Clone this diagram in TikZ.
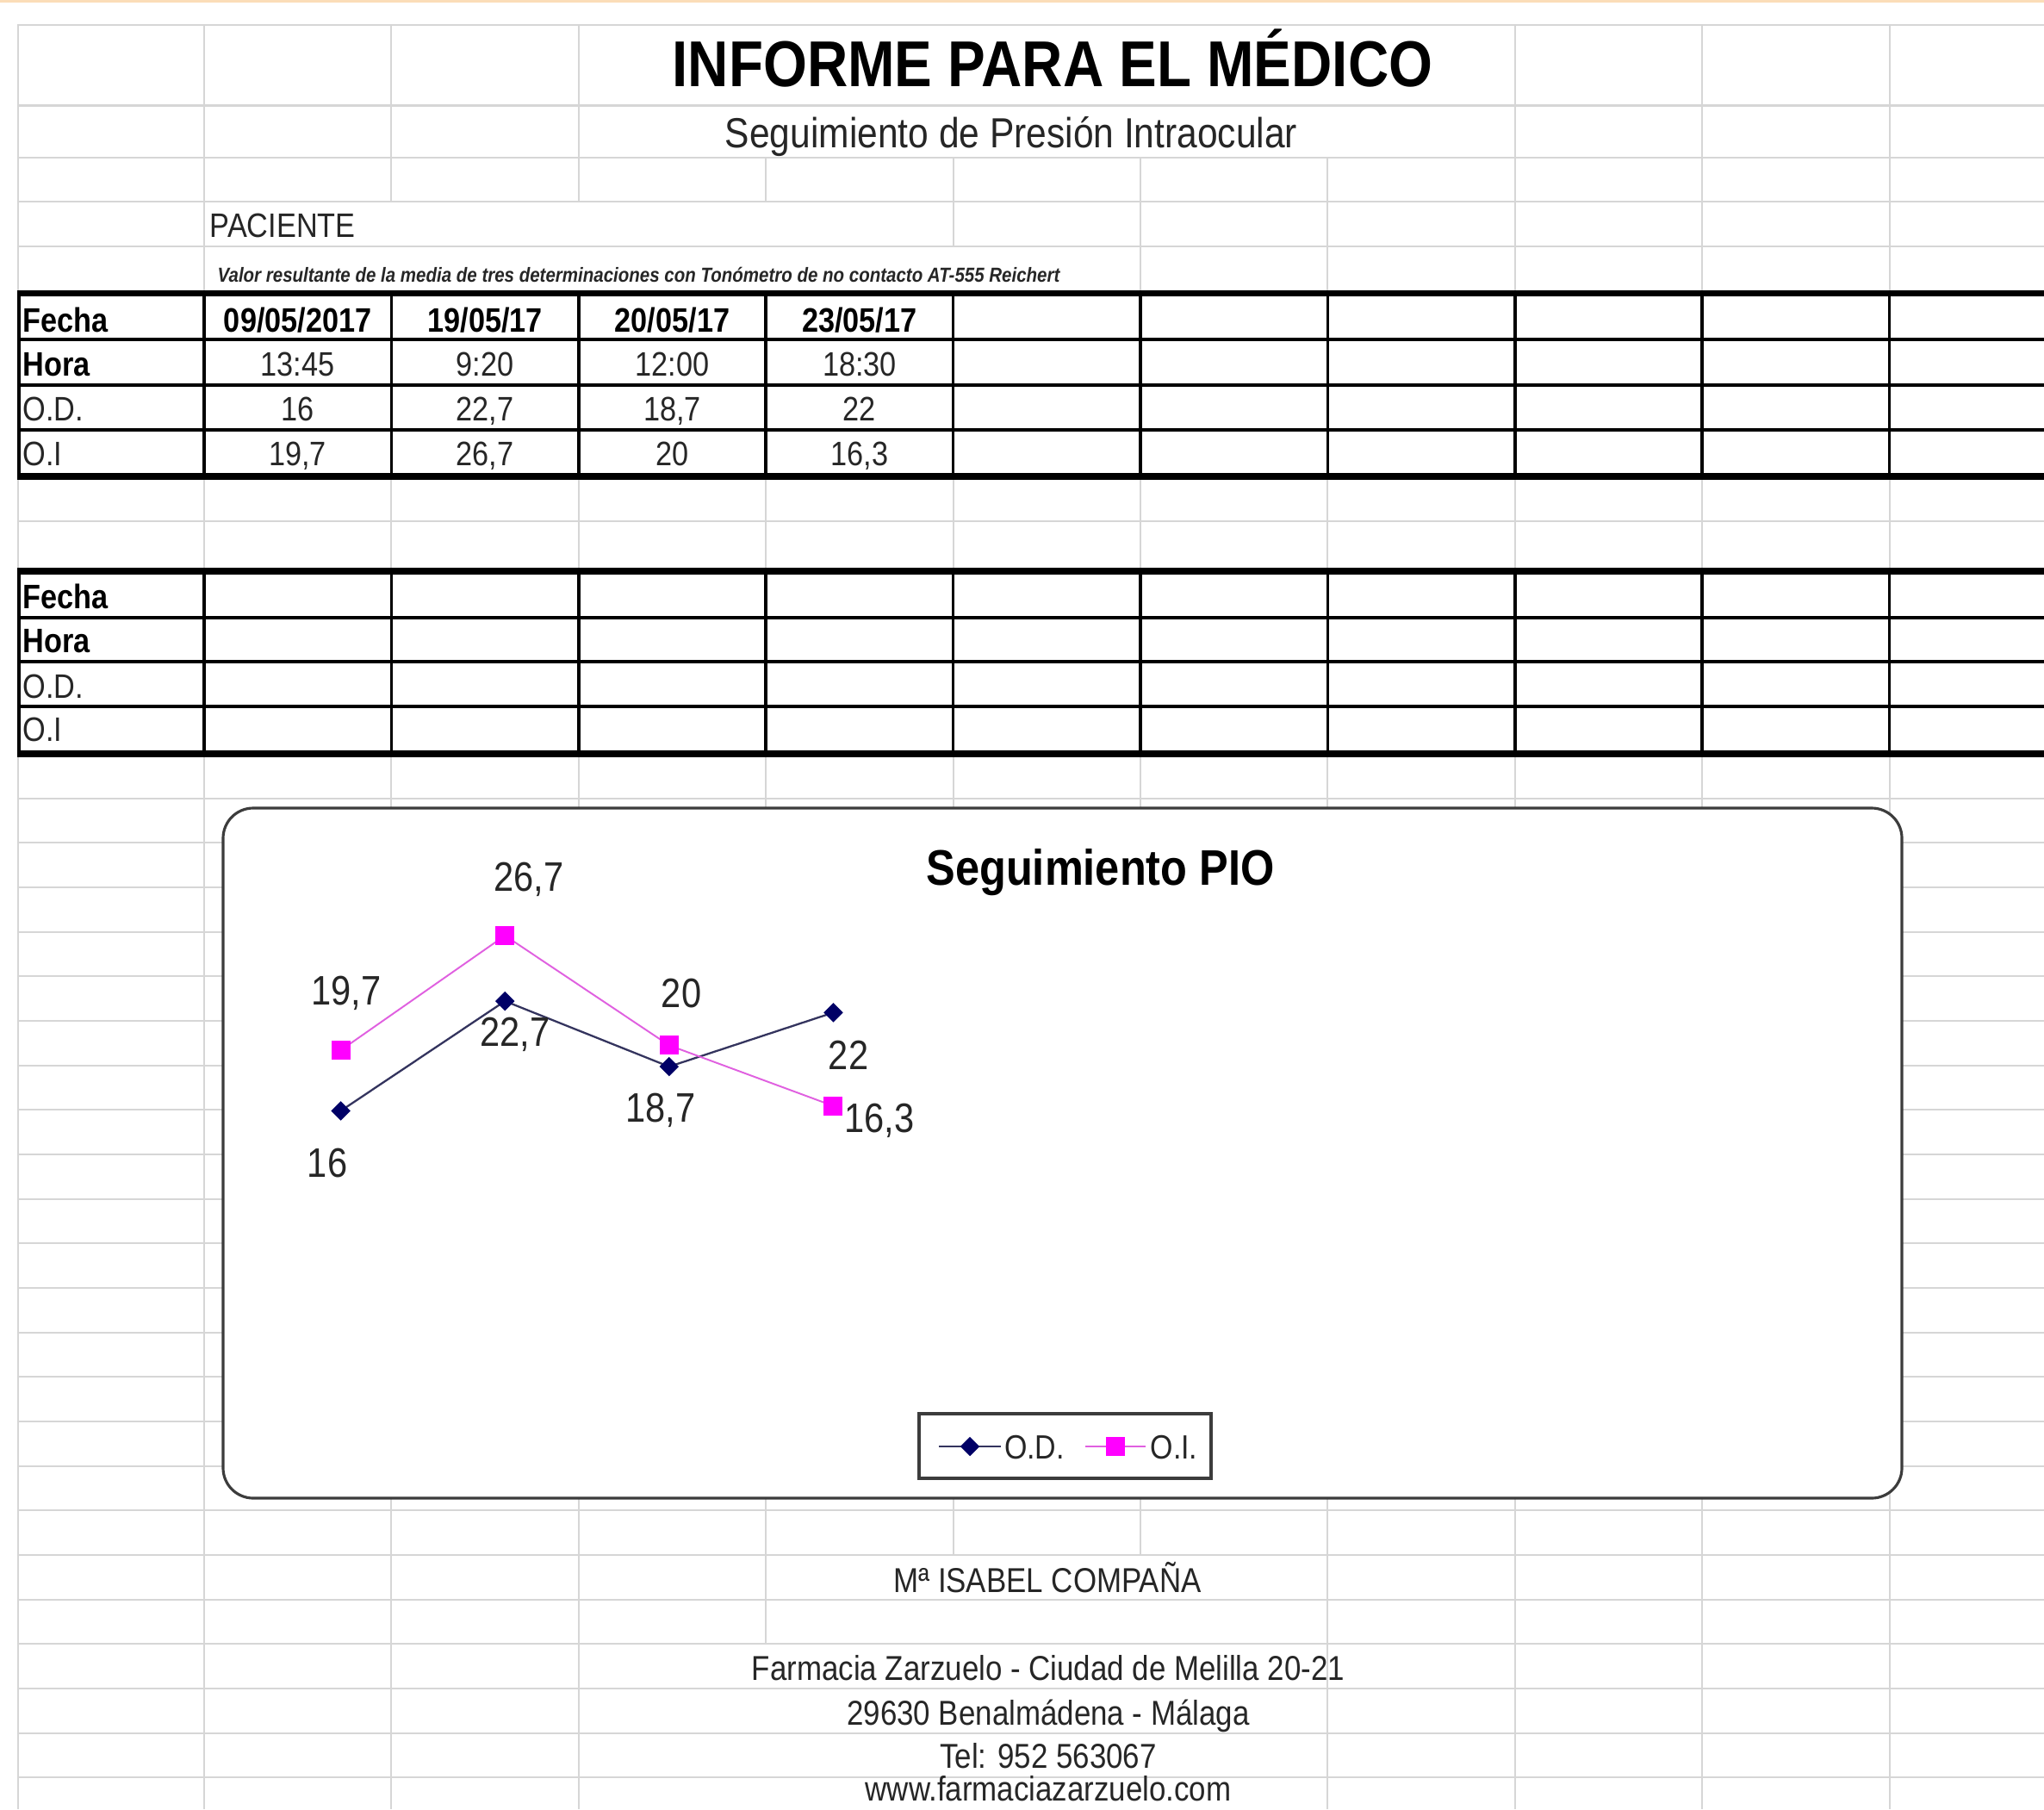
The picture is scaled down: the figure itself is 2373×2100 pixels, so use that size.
\documentclass[tikz,border=0pt]{standalone}
\usepackage{fontspec}
\setmainfont{Liberation Sans}[FakeStretch=0.87]
\usetikzlibrary{shapes.geometric}
\definecolor{gridgray}{HTML}{D6D6D6}
\definecolor{framegray}{HTML}{3C3C3C}
\definecolor{topband}{HTML}{FBDDB8}
\definecolor{odnavy}{HTML}{000066}
\definecolor{odstrokecolor}{HTML}{34345E}
\definecolor{oimagenta}{HTML}{FF00FF}
\definecolor{oistrokecolor}{HTML}{E060E0}
\definecolor{inkgray}{HTML}{262626}
\newcommand{\gridwidth}{0.6pt}
\newcommand{\rulewidth}{1pt}
\newcommand{\thickwidth}{2pt}
\newcommand{\titlesize}{\fontsize{21.4}{25}\selectfont}
\newcommand{\subsize}{\fontsize{13.9}{16}\selectfont}
\newcommand{\cellsize}{\fontsize{11.2}{13.4}\selectfont}
\newcommand{\notesize}{\fontsize{6.7}{8}\selectfont}
\newcommand{\valsize}{\fontsize{13.6}{16}\selectfont}
\newcommand{\footsize}{\fontsize{11.4}{13.7}\selectfont}

\begin{document}
\begin{tikzpicture}[x=0.01cm, y=-0.01cm,
  gridline/.style={draw=gridgray, line width=\gridwidth},
  rule/.style={draw=black, line width=\rulewidth},
  thickrule/.style={draw=black, line width=\thickwidth},
  cell/.style={font=\cellsize, text=inkgray, inner sep=0pt, anchor=base},
  headcell/.style={cell, font=\cellsize\bfseries, text=black},
  rowname/.style={cell, anchor=base west},
  rowhead/.style={headcell, anchor=base west},
  footline/.style={font=\footsize, text=inkgray, inner sep=0pt, anchor=base},
  ptlabel/.style={font=\valsize, text=inkgray, inner sep=0pt, text depth=0pt},
  odmark/.style={diamond, fill=odnavy, inner sep=0pt, minimum size=0.23cm},
  oimark/.style={rectangle, fill=oimagenta, inner sep=0pt, minimum size=0.22cm},
  odstroke/.style={draw=odstrokecolor, line width=0.65pt},
  oistroke/.style={draw=oistrokecolor, line width=0.55pt}]
\useasboundingbox (0,0) rectangle (2373,2100);
\clip (0,0) rectangle (2373,2100);
\fill[white] (0,0) rectangle (2373,2100);
\fill[topband] (0,0) rectangle (2373,3);
%light sheet grid, rows
\draw[gridline] (20,28.7) -- (2373,28.7);
\draw[gridline] (20,122.5) -- (2373,122.5);
\draw[gridline] (20,183) -- (2373,183);
\draw[gridline] (20,234) -- (2373,234);
\draw[gridline] (20,286) -- (2373,286);
\draw[gridline] (20,605) -- (2373,605);
\draw[gridline] (20,926.7) -- (2373,926.7);
\draw[gridline] (20,978.3) -- (2373,978.3);
\draw[gridline] (20,1030) -- (2373,1030);
\draw[gridline] (20,1081.7) -- (2373,1081.7);
\draw[gridline] (20,1133.3) -- (2373,1133.3);
\draw[gridline] (20,1185) -- (2373,1185);
\draw[gridline] (20,1236.7) -- (2373,1236.7);
\draw[gridline] (20,1288.3) -- (2373,1288.3);
\draw[gridline] (20,1340) -- (2373,1340);
\draw[gridline] (20,1391.7) -- (2373,1391.7);
\draw[gridline] (20,1443.3) -- (2373,1443.3);
\draw[gridline] (20,1495) -- (2373,1495);
\draw[gridline] (20,1546.7) -- (2373,1546.7);
\draw[gridline] (20,1598.3) -- (2373,1598.3);
\draw[gridline] (20,1650) -- (2373,1650);
\draw[gridline] (20,1701.7) -- (2373,1701.7);
\draw[gridline] (20,1753.3) -- (2373,1753.3);
\draw[gridline] (20,1805) -- (2373,1805);
\draw[gridline] (20,1856.7) -- (2373,1856.7);
\draw[gridline] (20,1908.3) -- (2373,1908.3);
\draw[gridline] (20,1960) -- (2373,1960);
\draw[gridline] (20,2011.7) -- (2373,2011.7);
\draw[gridline] (20,2063.3) -- (2373,2063.3);
%light sheet grid, columns
\draw[gridline] (21,28.7) -- (21,2100);
\draw[gridline] (237,28.7) -- (237,2100);
\draw[gridline] (454.4,28.7) -- (454.4,234) (454.4,340) -- (454.4,2100);
\draw[gridline] (671.8,28.7) -- (671.8,234) (671.8,340) -- (671.8,2100);
\draw[gridline] (889.2,183) -- (889.2,234) (889.2,340) -- (889.2,1908.3);
\draw[gridline] (1106.6,183) -- (1106.6,286) (1106.6,340) -- (1106.6,1805);
\draw[gridline] (1324,183) -- (1324,1805);
\draw[gridline] (1541.4,183) -- (1541.4,2100);
\draw[gridline] (1758.8,28.7) -- (1758.8,2100);
\draw[gridline] (1976.2,28.7) -- (1976.2,2100);
\draw[gridline] (2193.6,28.7) -- (2193.6,2100);
%heading
\node[font=\titlesize\bfseries, text=black, inner sep=0pt, anchor=base] (title) at (1222,101) {INFORME PARA EL MÉDICO};
\node[font=\subsize, text=inkgray, inner sep=0pt, anchor=base] (subtitle) at (1174,172) {Seguimiento de Presión Intraocular};
\node[font=\cellsize, text=inkgray, inner sep=0pt, anchor=base west] (patient) at (243,275) {PACIENTE};
\node[font=\notesize\bfseries\itshape, text=inkgray, inner sep=0pt, anchor=base west] (note) at (252,327) {Valor resultante de la media de tres determinaciones con Tonómetro de no contacto AT-555 Reichert};
%first table
\draw[rule] (22,394) -- (2373,394) (22,447) -- (2373,447) (22,499) -- (2373,499);
\draw[rule] (22,340.6) -- (22,553) (237,340.6) -- (237,553) (454.4,340.6) -- (454.4,553)
  (671.8,340.6) -- (671.8,553) (889.2,340.6) -- (889.2,553) (1106.6,340.6) -- (1106.6,553)
  (1324,340.6) -- (1324,553) (1541.4,340.6) -- (1541.4,553) (1758.8,340.6) -- (1758.8,553)
  (1976.2,340.6) -- (1976.2,553) (2193.6,340.6) -- (2193.6,553);
\draw[thickrule] (20,340.6) -- (2373,340.6);
\draw[thickrule] (20,553) -- (2373,553);
\node[rowhead] (fecha) at (26,385) {Fecha};
\node[rowhead] (hora) at (26,436) {Hora};
\node[rowname] (odrow) at (26,488) {O.D.};
\node[rowname] (oirow) at (26,540) {O.I};
\node[headcell] (d1) at (345.7,385) {09/05/2017};
\node[headcell] (d2) at (563.1,385) {19/05/17};
\node[headcell] (d3) at (780.5,385) {20/05/17};
\node[headcell] (d4) at (997.9,385) {23/05/17};
\node[cell] (h1) at (345.7,436) {13:45};
\node[cell] (h2) at (563.1,436) {9:20};
\node[cell] (h3) at (780.5,436) {12:00};
\node[cell] (h4) at (997.9,436) {18:30};
\node[cell] (r1) at (345.7,488) {16};
\node[cell] (r2) at (563.1,488) {22,7};
\node[cell] (r3) at (780.5,488) {18,7};
\node[cell] (r4) at (997.9,488) {22};
\node[cell] (l1) at (345.7,540) {19,7};
\node[cell] (l2) at (563.1,540) {26,7};
\node[cell] (l3) at (780.5,540) {20};
\node[cell] (l4) at (997.9,540) {16,3};
%second table
\draw[rule] (22,717) -- (2373,717) (22,768) -- (2373,768) (22,820) -- (2373,820);
\draw[rule] (22,663) -- (22,875) (237,663) -- (237,875) (454.4,663) -- (454.4,875)
  (671.8,663) -- (671.8,875) (889.2,663) -- (889.2,875) (1106.6,663) -- (1106.6,875)
  (1324,663) -- (1324,875) (1541.4,663) -- (1541.4,875) (1758.8,663) -- (1758.8,875)
  (1976.2,663) -- (1976.2,875) (2193.6,663) -- (2193.6,875);
\draw[thickrule] (20,663) -- (2373,663);
\draw[thickrule] (20,875) -- (2373,875);
\node[rowhead] (fecha2) at (26,706) {Fecha};
\node[rowhead] (hora2) at (26,757) {Hora};
\node[rowname] (odrow2) at (26,810) {O.D.};
\node[rowname] (oirow2) at (26,860) {O.I};
%chart
\draw[draw=framegray, fill=white, line width=0.9pt, rounded corners=0.35cm] (259,938) rectangle (2208,1739);
\node[font=\fontsize{16.5}{20}\selectfont\bfseries, text=black, inner sep=0pt, anchor=base] (charttitle) at (1277.5,1027) {Seguimiento PIO};
\begin{scope}[shift={(205,1593.6)}, x=1.905cm, y=0.19cm]
\coordinate (od1) at (1,16);
\coordinate (od2) at (2,22.7);
\coordinate (od3) at (3,18.7);
\coordinate (od4) at (4,22);
\coordinate (oi1) at (1,19.7);
\coordinate (oi2) at (2,26.7);
\coordinate (oi3) at (3,20);
\coordinate (oi4) at (4,16.3);
\end{scope}
\draw[odstroke] (od1) -- (od2) -- (od3) -- (od4);
\node[odmark] (odm1) at (od1) {};
\node[odmark] (odm2) at (od2) {};
\node[odmark] (odm3) at (od3) {};
\node[odmark] (odm4) at (od4) {};
\draw[oistroke] (oi1) -- (oi2) -- (oi3) -- (oi4);
\node[oimark] (oim1) at (oi1) {};
\node[oimark] (oim2) at (oi2) {};
\node[oimark] (oim3) at (oi3) {};
\node[oimark] (oim4) at (oi4) {};
\node[ptlabel] (vod1) at (380,1350) {16};
\node[ptlabel] (vod2) at (598,1198) {22,7};
\node[ptlabel] (vod3) at (767,1286) {18,7};
\node[ptlabel] (vod4) at (985,1225) {22};
\node[ptlabel] (voi1) at (402,1150) {19,7};
\node[ptlabel] (voi2) at (614,1018) {26,7};
\node[ptlabel] (voi3) at (791,1153) {20};
\node[ptlabel] (voi4) at (1021,1298) {16,3};
%legend
\draw[draw=framegray, line width=0.9pt] (1067,1641) rectangle (1406,1716);
\coordinate (keyod) at (1126,1679);
\coordinate (keyoi) at (1295,1679);
\draw[odstroke] ([xshift=-0.36cm]keyod) -- ([xshift=0.36cm]keyod);
\draw[oistroke] ([xshift=-0.35cm]keyoi) -- ([xshift=0.35cm]keyoi);
\node[odmark] (keyodm) at (keyod) {};
\node[oimark] (keyoim) at (keyoi) {};
\node[font=\fontsize{11.1}{13}\selectfont, text=inkgray, inner sep=0pt, text depth=0pt] (keyodtext) at (1201,1680) {O.D.};
\node[font=\fontsize{11.1}{13}\selectfont, text=inkgray, inner sep=0pt, text depth=0pt] (keyoitext) at (1363,1680) {O.I.};
%footer
\node[footline] (pharmacist) at (1216,1848) {Mª ISABEL COMPAÑA};
\node[footline] (address) at (1217,1950) {Farmacia Zarzuelo - Ciudad de Melilla 20-21};
\node[footline] (town) at (1217,2002) {29630 Benalmádena - Málaga};
\node[footline] (phone) at (1217,2052) {Tel: 952 563067};
\node[footline] (web) at (1217,2090) {www.farmaciazarzuelo.com};
\end{tikzpicture}
\end{document}
